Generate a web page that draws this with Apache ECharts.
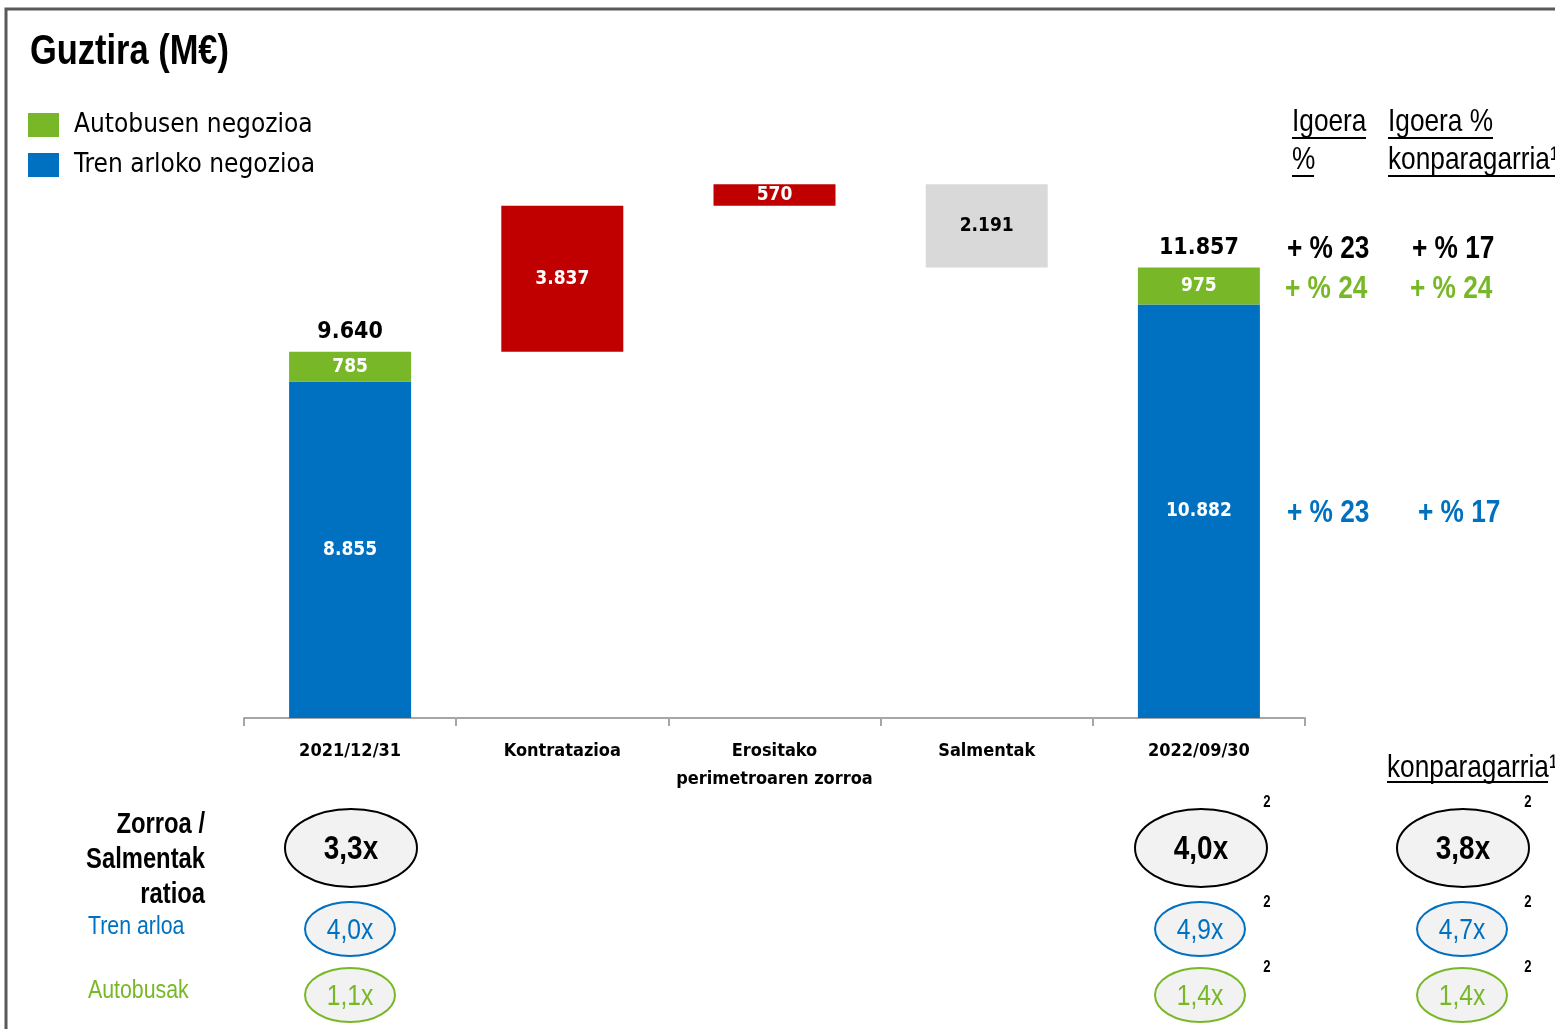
<!DOCTYPE html>
<html><head><meta charset="utf-8">
<script src="https://cdn.jsdelivr.net/npm/echarts@6/dist/echarts.min.js"></script>
<style>html,body{margin:0;padding:0;background:#fff}#c{width:1555px;height:1029px}</style>
</head><body><div id="c"></div>
<script>
const categories = ['2021/12/31', 'Kontratazioa', 'Erositako\nperimetroaren zorroa', 'Salmentak', '2022/09/30'];
const trenValues = [8855, null, null, null, 10882];
const busValues = [785, null, null, null, 975];
const increaseValues = [null, 3837, 570, null, null];
const decreaseValues = [null, null, null, 2191, null];
const growthTotal = ['+ % 23', '+ % 17'];
const growthBus = ['+ % 24', '+ % 24'];
const growthTren = ['+ % 23', '+ % 17'];
const ratioTotal = ['3,3x', '4,0x', '3,8x'];
const ratioTren = ['4,0x', '4,9x', '4,7x'];
const ratioBus = ['1,1x', '1,4x', '1,4x'];

const FONT = '"DejaVu Sans Condensed","Liberation Sans Narrow",sans-serif';
const GFONT = '"Liberation Sans",Arial,sans-serif';
const NARROW = 0.82;
const BLUE = '#0070C0', GREEN = '#78B828', RED = '#C00000', GREY = '#D9D9D9';

function fmt(n){ return String(n).replace(/\B(?=(\d{3})+(?!\d))/g, '.'); }

// running totals for waterfall
const totals = categories.map((c,i)=> (trenValues[i]!=null ? trenValues[i] + busValues[i] : null));
const base = []; let run = 0;
categories.forEach((c,i)=>{
  if (totals[i]!=null){ base.push(0); run = totals[i]; }
  else if (increaseValues[i]!=null){ base.push(run); run += increaseValues[i]; }
  else { run -= decreaseValues[i]; base.push(run); }
});
const topMarker = totals.map(t => t!=null ? 0 : null);

const chart = echarts.init(document.getElementById('c'));
const insideLabel = (color) => ({show:true, position:'inside', color, fontFamily:FONT, fontWeight:'bold', fontSize:19, formatter:p=>fmt(p.value)});

// graphic annotations
const g = [];
g.push({type:'polyline', shape:{points:[[6,1035],[6,9],[1560,9]]}, style:{stroke:'#595959', lineWidth:3, fill:null}});
function txt(x,y,text,opt){ g.push({type:'text', x, y, scaleX:NARROW, style:Object.assign({text, fontFamily:GFONT, fontSize:32, fill:'#000', textVerticalAlign:'middle'}, opt||{})}); }
function uline(x1,x2,y){ g.push({type:'line', shape:{x1,y1:y,x2,y2:y}, style:{stroke:'#000', lineWidth:2}}); }
txt(30,52,'Guztira (M€)',{fontSize:42, fontWeight:'bold'});
txt(1292,122,'Igoera'); uline(1292,1366,138);
txt(1292,160,'%'); uline(1292,1314,176);
txt(1388,122,'Igoera %'); uline(1388,1493,138);
txt(1388,160,'konparagarria¹'); uline(1388,1560,176);
const colX = [1287, 1412];
growthTotal.forEach((t,i)=>txt(colX[i],249,t,{fontWeight:'bold'}));
growthBus.forEach((t,i)=>txt(colX[i]-2,289,t,{fontWeight:'bold', fill:GREEN}));
growthTren.forEach((t,i)=>txt(colX[i]+(i?6:0),513,t,{fontWeight:'bold', fill:BLUE}));
txt(1387,768,'konparagarria¹'); uline(1387,1548,782);
txt(205,825,'Zorroa /',{fontWeight:'bold', fontSize:29, textAlign:'right'});
txt(205,860,'Salmentak',{fontWeight:'bold', fontSize:29, textAlign:'right'});
txt(205,895,'ratioa',{fontWeight:'bold', fontSize:29, textAlign:'right'});
txt(88,927,'Tren arloa',{fontSize:26, fill:BLUE});
txt(88,991,'Autobusak',{fontSize:26, fill:GREEN});
const ellX = [351, 1201, 1463];
function ell(cx,cy,rx,ry,stroke,text,color,bold,fs){
  g.push({type:'ellipse', shape:{cx,cy,rx,ry}, style:{fill:'#F2F2F2', stroke, lineWidth:2}});
  g.push({type:'text', x:cx, y:cy+2, scaleX:NARROW, style:{text, fontFamily:GFONT, fontSize:fs, fontWeight:bold?'bold':'normal', fill:color, textAlign:'center', textVerticalAlign:'middle'}});
}
ratioTotal.forEach((t,i)=>ell(ellX[i],848,66,39,'#000',t,'#000',true,34));
ratioTren.forEach((t,i)=>ell(ellX[i]-1,929,45,27,BLUE,t,BLUE,false,30));
ratioBus.forEach((t,i)=>ell(ellX[i]-1,995,45,27,GREEN,t,GREEN,false,30));
[1267,1528].forEach(x=>[803,903,968].forEach(y=>txt(x,y,'2',{fontSize:16, fontWeight:'bold', textAlign:'center'})));

chart.setOption({
  animation:false,
  textStyle:{fontFamily:FONT},
  legend:{orient:'vertical', left:28, top:112, padding:0, itemWidth:31, itemHeight:24, itemGap:14, icon:'rect',
    data:['Autobusen negozioa','Tren arloko negozioa'],
    textStyle:{fontFamily:FONT, fontSize:26, color:'#000', lineHeight:24, padding:[0,0,0,10]}},
  grid:{left:244, right:250, top:148, bottom:311},
  xAxis:{type:'category', data:categories,
    axisLine:{lineStyle:{color:'#A6A6A6', width:2}},
    axisTick:{show:true, length:8, lineStyle:{color:'#A6A6A6', width:2}},
    axisLabel:{color:'#000', fontFamily:FONT, fontWeight:'bold', fontSize:18, margin:19, lineHeight:28, interval:0}},
  yAxis:{type:'value', min:0, max:15000, show:false, splitLine:{show:false}},
  graphic:g,
  series:[
    {name:'base', type:'bar', stack:'w', barWidth:122, data:base, itemStyle:{color:'transparent'}, silent:true},
    {name:'Tren arloko negozioa', type:'bar', stack:'w', data:trenValues, itemStyle:{color:BLUE}, label:insideLabel('#fff')},
    {name:'Autobusen negozioa', type:'bar', stack:'w', data:busValues, itemStyle:{color:GREEN}, label:insideLabel('#fff')},
    {name:'Igoera', type:'bar', stack:'w', data:increaseValues, itemStyle:{color:RED}, label:insideLabel('#fff')},
    {name:'Salmentak', type:'bar', stack:'w', data:decreaseValues, itemStyle:{color:GREY}, label:insideLabel('#000')},
    {name:'Guztira', type:'bar', stack:'w', data:topMarker, itemStyle:{color:'transparent'},
      label:{show:true, position:'top', distance:8, color:'#000', fontFamily:FONT, fontWeight:'bold', fontSize:23,
        formatter:p=>fmt(totals[p.dataIndex])}}
  ]
});
</script></body></html>
